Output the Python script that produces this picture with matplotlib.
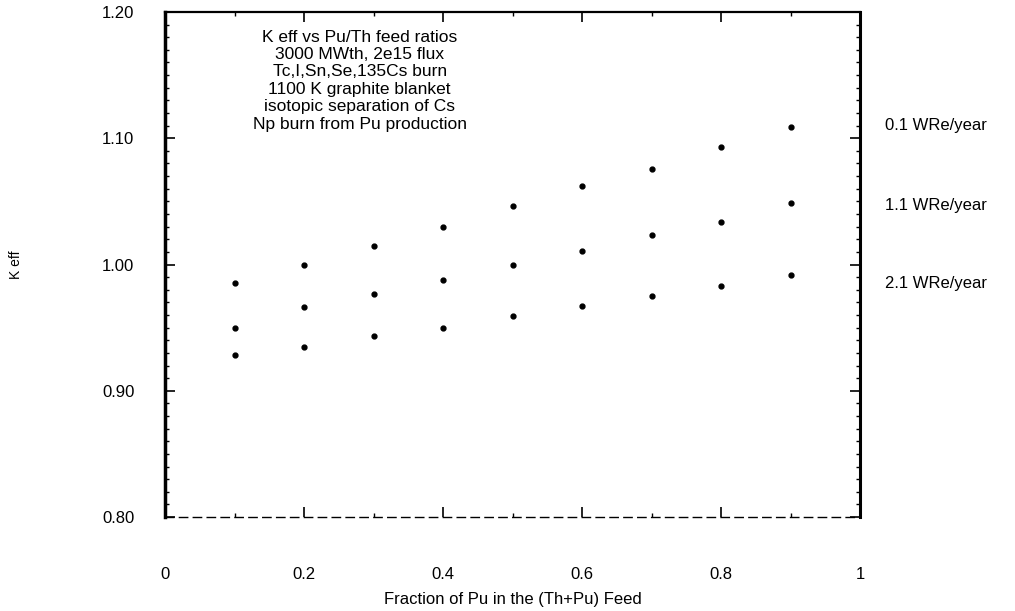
import matplotlib
matplotlib.use("Agg")
import matplotlib.pyplot as plt
from matplotlib.ticker import MultipleLocator

plt.rcParams['font.family'] = ['Liberation Sans Narrow', 'Liberation Sans', 'DejaVu Sans']

x_frac = [0.1, 0.2, 0.3, 0.4, 0.5, 0.6, 0.7, 0.8, 0.9]
keff_01 = [0.985, 1.000, 1.015, 1.030, 1.046, 1.062, 1.076, 1.093, 1.109]
keff_11 = [0.950, 0.966, 0.977, 0.988, 1.000, 1.011, 1.023, 1.034, 1.049]
keff_21 = [0.928, 0.935, 0.943, 0.950, 0.959, 0.967, 0.975, 0.983, 0.992]
series_labels = ["0.1 WRe/year", "1.1 WRe/year", "2.1 WRe/year"]
series_label_y = [1.110, 1.047, 0.985]
x_ticks = [0, 0.2, 0.4, 0.6, 0.8, 1]
x_tick_labels = ["0", "0.2", "0.4", "0.6", "0.8", "1"]
y_ticks = [0.80, 0.90, 1.00, 1.10, 1.20]
y_tick_labels = ["0.80", "0.90", "1.00", "1.10", "1.20"]
title_lines = [
    "K eff vs Pu/Th feed ratios",
    "3000 MWth, 2e15 flux",
    "Tc,I,Sn,Se,135Cs burn",
    "1100 K graphite blanket",
    "isotopic separation of Cs",
    "Np burn from Pu production",
]

fig = plt.figure(figsize=(10.15, 6.11), dpi=100)
ax = fig.add_axes([0.1626, 0.1538, 0.8473 - 0.1626, 0.9804 - 0.1538])

for ys in (keff_01, keff_11, keff_21):
    ax.plot(x_frac, ys, linestyle='none', marker='o', markersize=3.5,
            color='black')

ax.set_xlim(0, 1)
ax.set_ylim(0.80, 1.20)
ax.set_xticks(x_ticks)
ax.set_xticklabels(x_tick_labels)
ax.set_yticks(y_ticks)
ax.set_yticklabels(y_tick_labels)
ax.xaxis.set_minor_locator(MultipleLocator(0.1))
ax.yaxis.set_minor_locator(MultipleLocator(0.01))
ax.tick_params(axis='both', which='major', direction='in', length=7, width=1.2,
               labelsize=12, top=True, right=True)
ax.tick_params(axis='both', which='minor', direction='in', length=3, width=1,
               top=True, right=True)
ax.tick_params(axis='x', pad=36)
ax.tick_params(axis='y', pad=22)

ax.spines['left'].set_linewidth(2.5)
ax.spines['right'].set_linewidth(2.2)
ax.spines['top'].set_linewidth(1.6)
ax.spines['bottom'].set_linewidth(1.0)
ax.spines['bottom'].set_linestyle((0, (6, 4)))

ax.set_xlabel("Fraction of Pu in the (Th+Pu) Feed", fontsize=12)
ax.xaxis.set_label_coords(0.5, -0.148)
ax.set_ylabel("K eff", fontsize=10)
ax.yaxis.set_label_coords(-0.205, 0.5)

ax.text(0.28, 0.965, "\n".join(title_lines), transform=ax.transAxes,
        ha='center', va='top', fontsize=12.5, linespacing=1.2)

for lab, ly in zip(series_labels, series_label_y):
    ax.annotate(lab, xy=(1.0, ly), xycoords=('axes fraction', 'data'),
                xytext=(18, 0), textcoords='offset points', fontsize=12,
                ha='left', va='center', annotation_clip=False)

fig.savefig("out.png", dpi=100)
